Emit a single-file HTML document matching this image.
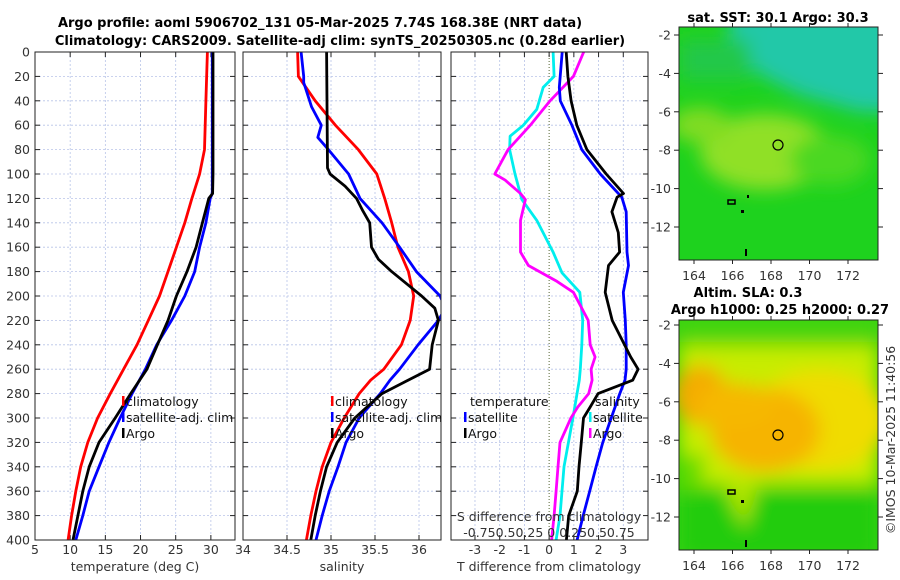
<!DOCTYPE html>
<html><head><meta charset="utf-8">
<style>
html,body{margin:0;padding:0;background:#fff;}
svg{display:block;font-family:"DejaVu Sans","Liberation Sans",sans-serif;}
.t{font-size:12.5px;fill:#333;}
.ti{font-size:13px;font-weight:bold;fill:#000;}
.lg{font-size:12.5px;fill:#111;}
</style></head>
<body>
<svg id="chart" width="900" height="580" viewBox="0 0 900 580">
<defs>
<clipPath id="c1"><rect x="35" y="52" width="200" height="488"/></clipPath>
<clipPath id="c2"><rect x="243" y="52" width="198" height="488"/></clipPath>
<clipPath id="c3"><rect x="451" y="52" width="197" height="488"/></clipPath>
<clipPath id="m1"><rect x="679" y="27" width="199" height="233"/></clipPath>
<clipPath id="m2"><rect x="679" y="320" width="199" height="230"/></clipPath>
<filter id="bl" x="-50%" y="-50%" width="200%" height="200%"><feGaussianBlur stdDeviation="9"/></filter>
</defs>
<text class="ti" x="320" y="27" text-anchor="middle">Argo profile: aoml 5906702_131 05-Mar-2025 7.74S 168.38E (NRT data)</text>
<text class="ti" x="340" y="45" text-anchor="middle">Climatology: CARS2009. Satellite-adj clim: synTS_20250305.nc (0.28d earlier)</text>

<g id="maps">
<text class="ti" x="778" y="22" text-anchor="middle">sat. SST: 30.1 Argo: 30.3</text>
<g clip-path="url(#m1)">
<rect x="679" y="27" width="199" height="233" fill="#1ed21e"/>
<g filter="url(#bl)">
<polygon points="730,10 900,10 900,112 860,112 800,95 760,75 730,40" fill="#22c8a8"/>
<rect x="680" y="40" width="70" height="40" fill="#22c84a"/>
<ellipse cx="765" cy="152" rx="65" ry="38" fill="#90e028"/>
<ellipse cx="700" cy="125" rx="30" ry="18" fill="#80dc20"/>
<ellipse cx="830" cy="160" rx="40" ry="25" fill="#4cd820"/>
</g>
<circle cx="778" cy="145" r="5" fill="none" stroke="#000" stroke-width="1.2"/>
<rect x="747" y="195" width="2" height="3" fill="#000"/>
<rect x="728" y="200" width="7" height="4" fill="none" stroke="#000" stroke-width="1.5"/>
<rect x="741" y="210" width="3" height="3" fill="#000"/>
<rect x="745" y="249" width="2" height="7" fill="#000"/>
</g>
<rect x="679" y="27" width="199" height="233" fill="none" stroke="#222" stroke-width="1"/>
<text class="ti" x="748" y="297" text-anchor="middle">Altim. SLA: 0.3</text>
<text class="ti" x="780" y="314" text-anchor="middle">Argo h1000: 0.25 h2000: 0.27</text>
<g clip-path="url(#m2)">
<rect x="679" y="320" width="199" height="230" fill="#3ad40a"/>
<g filter="url(#bl)">
<rect x="679" y="345" width="199" height="140" fill="#c8ec00"/>
<ellipse cx="820" cy="420" rx="70" ry="50" fill="#f0dc00"/>
<ellipse cx="765" cy="430" rx="55" ry="42" fill="#f6b400"/>
<ellipse cx="700" cy="395" rx="28" ry="30" fill="#f4ac00"/>
<ellipse cx="735" cy="405" rx="40" ry="22" fill="#f6b800"/>
<rect x="679" y="490" width="199" height="70" fill="#22cc10"/>
<polygon points="720,480 760,480 745,530" fill="#aee400"/>
<rect x="679" y="455" width="25" height="35" fill="#66dc00"/>
<rect x="679" y="320" width="199" height="22" fill="#44d408"/>
</g>
<circle cx="778" cy="435" r="5" fill="none" stroke="#000" stroke-width="1.2"/>
<rect x="728" y="490" width="7" height="4" fill="none" stroke="#000" stroke-width="1.5"/>
<rect x="741" y="500" width="3" height="3" fill="#000"/>
<rect x="745" y="540" width="2" height="7" fill="#000"/>
</g>
<rect x="679" y="320" width="199" height="230" fill="none" stroke="#222" stroke-width="1"/>
<text class="t" transform="translate(895,440) rotate(-90)" text-anchor="middle">©IMOS 10-Mar-2025 11:40:56</text>
</g>
</svg>
<script>
// ---- data ----
const depthTicks = [0,20,40,60,80,100,120,140,160,180,200,220,240,260,280,300,320,340,360,380,400];
const tempTicks = [5,10,15,20,25,30];
const salTicks = [34,34.5,35,35.5,36];
const tdiffTicks = [-3,-2,-1,0,1,2,3];
const latTicks = [-2,-4,-6,-8,-10,-12];
const lonTicks = [164,166,168,170,172];

const tClimDepth = [0,40,80,100,120,140,160,180,200,220,240,260,280,300,320,340,360,380,400];
const tClim = [29.5,29.3,29.1,28.4,27.3,26.3,25.1,23.9,22.7,21.1,19.5,17.6,15.7,13.9,12.5,11.5,10.8,10.2,9.7];
const tSatDepth = [0,100,116,120,140,160,180,200,220,240,260,280,300,320,340,360,380,400];
const tSat = [30.2,30.2,30.2,29.9,29.3,28.4,27.7,26.3,24.4,22.3,20.7,18.8,17.1,15.5,14.1,12.7,11.8,10.8];
const tArgoDepth = [0,100,116,120,140,160,180,200,220,240,260,280,300,320,340,360,380,400];
const tArgo = [30.3,30.3,30.25,29.7,28.8,27.9,26.6,25.1,23.9,22.4,20.9,18.6,16.4,14.1,12.7,11.8,11.1,10.4];

const sClimDepth = [0,20,40,60,80,100,120,140,160,180,200,220,240,260,269,280,300,320,340,360,380,400];
const sClim = [34.62,34.63,34.82,35.05,35.31,35.52,35.61,35.69,35.76,35.88,35.94,35.9,35.8,35.6,35.45,35.32,35.15,35.0,34.9,34.83,34.77,34.72];
const sSatDepth = [0,20,25,45,60,70,80,100,120,140,160,180,200,210,220,240,260,269,280,300,320,340,360,380,400];
const sSat = [34.66,34.69,34.69,34.78,34.89,34.85,34.97,35.2,35.33,35.58,35.78,35.97,36.24,36.3,36.22,35.99,35.78,35.67,35.56,35.32,35.17,35.08,34.98,34.9,34.83];
const sArgoDepth = [0,95,100,110,120,130,140,160,170,180,190,200,210,220,240,260,270,280,300,320,340,360,380,400];
const sArgo = [34.95,34.96,34.99,35.16,35.29,35.36,35.44,35.46,35.54,35.69,35.86,36.03,36.18,36.22,36.15,36.12,35.85,35.58,35.27,35.07,34.95,34.88,34.82,34.77];

const dtArgoDepth = [0,20,40,60,80,100,116,119,131,148,164,175,197,220,240,250,260,269,280,291,300,320,340,360,380,400];
const dtArgo = [0.69,0.76,0.89,1.12,1.53,2.31,3.01,2.75,2.54,2.8,2.85,2.4,2.27,2.55,3.05,3.3,3.6,3.38,1.98,1.66,1.39,1.3,1.21,1.14,0.79,0.7];
const dtSatDepth = [0,29,40,60,80,100,119,131,164,175,197,220,240,260,269,280,300,320,340,360,380,400];
const dtSat = [0.53,0.41,0.45,0.92,1.32,2.07,2.94,3.12,3.15,3.21,3.0,3.08,3.12,3.12,3.07,2.86,2.51,2.17,1.9,1.64,1.38,1.13];
const dsSatDepth = [0,20,29,47,60,69,80,100,121,138,164,181,197,220,240,260,269,300,340,380,400];
const dsSat = [0.04,0.05,-0.06,-0.125,-0.26,-0.395,-0.4,-0.345,-0.275,-0.125,0.04,0.13,0.31,0.34,0.33,0.315,0.305,0.24,0.15,0.11,0.07];
const dsArgoDepth = [0,20,40,60,80,100,105,116,121,138,164,175,188,197,220,240,250,260,269,280,291,300,320,340,360,380,400];
const dsArgo = [0.35,0.245,0.01,-0.19,-0.415,-0.55,-0.445,-0.29,-0.24,-0.29,-0.29,-0.21,0.08,0.245,0.395,0.415,0.465,0.425,0.435,0.4,0.29,0.22,0.11,0.09,0.07,0.05,0.025];

// ---- drawing ----
const NS = 'http://www.w3.org/2000/svg';
const svg = document.getElementById('chart');
function mk(tag, attrs, parent){
  const e = document.createElementNS(NS, tag);
  for (const k in attrs) e.setAttribute(k, attrs[k]);
  (parent||svg).appendChild(e);
  return e;
}
const Y0 = 52, Y1 = 540;
function yScale(d){ return Y0 + d/400*(Y1-Y0); }
function lin(d0,d1,r0,r1){ return v => r0 + (v-d0)/(d1-d0)*(r1-r0); }

const panels = [
  {name:'temperature-panel', x0:35, x1:235, xs:lin(5,33.43,35,235), ticks:tempTicks, clip:'c1', label:'temperature (deg C)', labelX:135},
  {name:'salinity-panel', x0:243, x1:441, xs:lin(34,36.25,243,441), ticks:salTicks, clip:'c2', label:'salinity', labelX:342},
  {name:'difference-panel', x0:451, x1:648, xs:lin(-3.97,4,451,648), ticks:tdiffTicks, clip:'c3', label:'T difference from climatology', labelX:549}
];
panels.forEach((p,pi)=>{
  const g = mk('g',{});
  
  
  depthTicks.forEach(d=>{
    if (d===0||d===400) return;
    const ln = mk('line',{x1:p.x0,x2:p.x1,y1:yScale(d),y2:yScale(d),stroke:'#b8c4e8','stroke-width':0.8,'stroke-dasharray':'2,2'},g);
    
    
  });
  p.ticks.forEach(v=>{
    const x = p.xs(v);
    if (pi===2 && v===0) return;
    const ln = mk('line',{x1:x,x2:x,y1:Y0,y2:Y1,stroke:'#b8c4e8','stroke-width':0.8,'stroke-dasharray':'2,2'},g);
    
    
  });
  if (pi===2){
    const z = mk('line',{x1:p.xs(0),x2:p.xs(0),y1:Y0,y2:Y1,stroke:'#556633','stroke-width':1,'stroke-dasharray':'1,2'},g);
    
    
  }
  depthTicks.forEach(d=>{
    const y = yScale(d);
    mk('line',{x1:p.x0,x2:p.x0+5,y1:y,y2:y,stroke:'#222'},g);
    mk('line',{x1:p.x1,x2:p.x1-5,y1:y,y2:y,stroke:'#222'},g);
    if (pi===0){
      const t = mk('text',{x:30,y:y+4.5,'text-anchor':'end',class:'t'},g);
      t.textContent = d;
      
      
    }
  });
  p.ticks.forEach(v=>{
    const x = p.xs(v);
    mk('line',{x1:x,x2:x,y1:Y1,y2:Y1-5,stroke:'#222'},g);
    mk('line',{x1:x,x2:x,y1:Y0,y2:Y0+5,stroke:'#222'},g);
    const t = mk('text',{x:x,y:554,'text-anchor':'middle',class:'t'},g);
    t.textContent = v;
    
    
  });
  const xl = mk('text',{x:p.labelX,y:571,'text-anchor':'middle',class:'t'},g);
  xl.textContent = p.label;
  
  
  p.g = g;
});

function series(pi, depths, vals, color, name, scale){
  const p = panels[pi];
  const pts = depths.map((d,i)=> p.xs(vals[i]*(scale||1)).toFixed(1)+','+yScale(d).toFixed(1)).join(' ');
  const pl = mk('polyline',{points:pts,fill:'none',stroke:color,'stroke-width':2.8,'stroke-linejoin':'round','clip-path':'url(#'+p.clip+')'},p.g);
  
  
}
series(0,tClimDepth,tClim,'#ff0000','temp-climatology-line');
series(0,tSatDepth,tSat,'#0000ff','temp-satellite-line');
series(0,tArgoDepth,tArgo,'#000000','temp-argo-line');
series(1,sClimDepth,sClim,'#ff0000','sal-climatology-line');
series(1,sSatDepth,sSat,'#0000ff','sal-satellite-line');
series(1,sArgoDepth,sArgo,'#000000','sal-argo-line');
series(2,dsSatDepth,dsSat,'#00eeee','sdiff-satellite-line',4);
series(2,dsArgoDepth,dsArgo,'#ff00ff','sdiff-argo-line',4);
series(2,dtSatDepth,dtSat,'#0000ff','tdiff-satellite-line');
series(2,dtArgoDepth,dtArgo,'#000000','tdiff-argo-line');

panels.forEach(p=>{
  const r = mk('rect',{x:p.x0,y:Y0,width:p.x1-p.x0,height:Y1-Y0,fill:'none',stroke:'#222','stroke-width':1},p.g);
  
  
});

function legend(x, y, color, text){
  const g = mk('g',{});
  
  
  mk('rect',{x:x,y:y-10,width:2.5,height:10,fill:color},g);
  const t = mk('text',{x:x+4,y:y,class:'lg'},g);
  t.textContent = text;
}
legend(122,406,'#ff0000','climatology');
legend(122,422,'#0000ff','satellite-adj. clim');
legend(122,438,'#000000','Argo');
legend(331,406,'#ff0000','climatology');
legend(331,422,'#0000ff','satellite-adj. clim');
legend(331,438,'#000000','Argo');
const lt = mk('text',{x:470,y:406,class:'lg'}); lt.textContent='temperature';


const ls = mk('text',{x:595,y:406,class:'lg'}); ls.textContent='salinity';


legend(464,422,'#0000ff','satellite');
legend(464,438,'#000000','Argo');
legend(589,422,'#00eeee','satellite');
legend(589,438,'#ff00ff','Argo');
const s1 = mk('text',{x:549,y:521,'text-anchor':'middle',class:'t'}); s1.textContent='S difference from climatology';


const s2 = mk('text',{x:549,y:537,'text-anchor':'middle',class:'t'}); s2.textContent='-0.750.50.25 0 0.250.50.75';



const lonX = lin(164,172,694,848);
[[27,260,lin(-2,-12,35,227)],[320,550,lin(-2,-12,325,517)]].forEach(([top,bot,ys])=>{
  latTicks.forEach(v=>{
    const y = ys(v);
    mk('line',{x1:679,x2:674,y1:y,y2:y,stroke:'#222'});
    mk('line',{x1:878,x2:883,y1:y,y2:y,stroke:'#222'});
    const t = mk('text',{x:671,y:y+4.5,'text-anchor':'end',class:'t'});
    t.textContent = v;
    
    
  });
  lonTicks.forEach(v=>{
    const x = lonX(v);
    mk('line',{x1:x,x2:x,y1:bot,y2:bot+4,stroke:'#222'});
    mk('line',{x1:x,x2:x,y1:top,y2:top-4,stroke:'#222'});
    const t = mk('text',{x:x,y:bot+20,'text-anchor':'middle',class:'t'});
    t.textContent = v;
    
    
  });
});
</script>
</body></html>
